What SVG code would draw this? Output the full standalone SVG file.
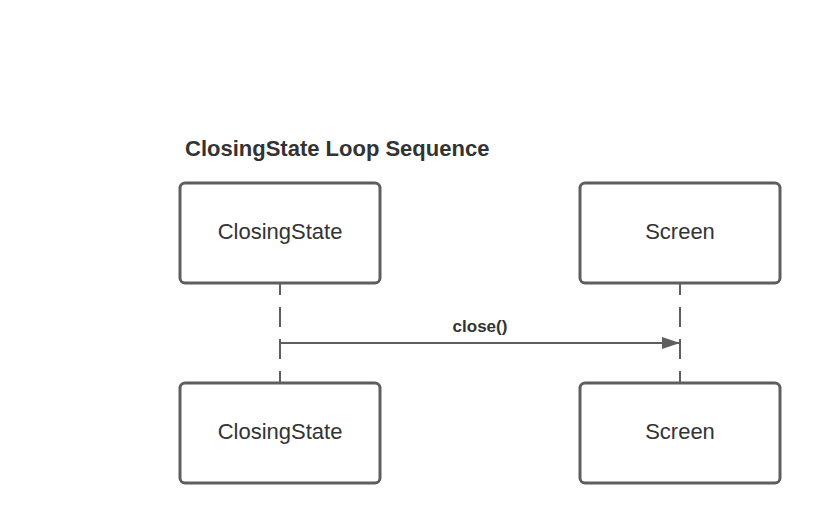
<svg xmlns="http://www.w3.org/2000/svg" width="820" height="523" viewBox="0 0 820 523">
<defs>
<style>
.box{fill:#fff;stroke:#5e5e5e;stroke-width:3}
.lbl{font-family:"Liberation Sans",Arial,sans-serif;font-size:22px;fill:#333;text-anchor:middle}
.life{stroke:#5e5e5e;stroke-width:2;stroke-dasharray:20 12;stroke-dashoffset:8;fill:none}
.msg{stroke:#5e5e5e;stroke-width:2;fill:none}
</style>
<marker id="arr" viewBox="0 0 18 12" refX="18" refY="6" markerWidth="18" markerHeight="12" markerUnits="userSpaceOnUse" orient="auto">
<path d="M0,0 L18,6 L0,12 Z" fill="#5e5e5e"/>
</marker>
</defs>
<rect width="820" height="523" fill="#fff"/>
<text x="185" y="156" font-family="Liberation Sans,Arial,sans-serif" font-size="22" font-weight="bold" fill="#333">ClosingState Loop Sequence</text>
<g id="connectors">
<line class="life" x1="280" y1="283" x2="280" y2="383"/>
<line class="life" x1="680" y1="283" x2="680" y2="383"/>
<line class="msg" x1="280" y1="343" x2="680" y2="343" marker-end="url(#arr)"/>
<text x="480" y="332" font-family="Liberation Sans,Arial,sans-serif" font-size="17" font-weight="bold" fill="#333" text-anchor="middle">close()</text>
</g>
<g id="closingstate-top">
<rect class="box" x="180" y="183" width="200" height="100" rx="5"/>
<text class="lbl" x="280" y="239">ClosingState</text>
</g>
<g id="screen-top">
<rect class="box" x="580" y="183" width="200" height="100" rx="5"/>
<text class="lbl" x="680" y="239">Screen</text>
</g>
<g id="closingstate-bottom">
<rect class="box" x="180" y="383" width="200" height="100" rx="5"/>
<text class="lbl" x="280" y="439">ClosingState</text>
</g>
<g id="screen-bottom">
<rect class="box" x="580" y="383" width="200" height="100" rx="5"/>
<text class="lbl" x="680" y="439">Screen</text>
</g>
</svg>
